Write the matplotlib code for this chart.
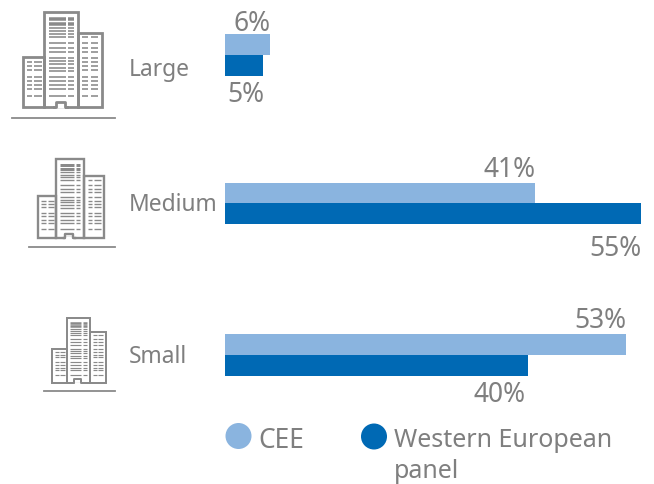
import matplotlib
matplotlib.use('Agg')
import matplotlib.pyplot as plt
from matplotlib.patches import Rectangle, Circle

plt.rcParams['font.family'] = ['Noto Sans', 'DejaVu Sans']

sizes = ['Large', 'Medium', 'Small']
cee = [6, 41, 53]
western = [5, 55, 40]
series_names = ['CEE', 'Western European\npanel']
blue_light = '#8ab4df'
blue_dark = '#0069b4'
grey = '#7f7f7f'

W, H = 654, 484
fig = plt.figure(figsize=(W / 100, H / 100), dpi=100)

# overlay in pixel coords for icons and text
bg = fig.add_axes([0, 0, 1, 1])
bg.set_xlim(0, W)
bg.set_ylim(H, 0)
bg.axis('off')

# bar axes, x is percent
ax = fig.add_axes([225 / W, 0, 416 / W, 1])
ax.set_xlim(0, 55)
ax.set_ylim(H, 0)
ax.axis('off')
ax.patch.set_alpha(0)

centres = [55, 203.4, 355]
bar_h = 20.8
for i in range(3):
    ax.barh(centres[i] - bar_h / 2, cee[i], height=bar_h, color=blue_light)
    ax.barh(centres[i] + bar_h / 2, western[i], height=bar_h, color=blue_dark)

# value labels
fs_val = 19
top_label = [(252, 24), (510, 170), (600, 321)]
bot_label = [(246, 95), (615, 249), (500, 395)]
for i in range(3):
    bg.text(top_label[i][0], top_label[i][1], f'{cee[i]}%', color=grey, fontsize=fs_val, ha='center', va='center')
    bg.text(bot_label[i][0], bot_label[i][1], f'{western[i]}%', color=grey, fontsize=fs_val, ha='center', va='center')

# row labels
label_y = [70, 205, 357]
for i in range(3):
    bg.text(128.5, label_y[i], sizes[i], color=grey, fontsize=16.4, ha='left', va='center')


def building(x0, y0, s, line_x0, line_x1, line_y):
    c = '#8a8a8a'
    lw = 1.8 * s + 0.2

    def px(x, y):
        return x0 + x * s, y0 + y * s

    def rows(ys, spans, t):
        for r in ys:
            for a, b in spans:
                xa, ya = px(a, r)
                xb, _ = px(b, r)
                bg.plot([xa, xb], [ya, ya], color=c, lw=t * (s + 0.15), solid_capstyle='butt')

    for x, y, w, h in [(0, 45, 21.5, 50), (21.5, 0, 34, 95), (55.5, 21, 24, 74)]:
        bg.add_patch(Rectangle(px(x, y), w * s, h * s, fill=False, ec=c, lw=lw))
    # door, open at the bottom
    bg.plot([x0 + 33 * s, x0 + 42 * s], [y0 + 95 * s, y0 + 95 * s], color='white', lw=lw + 0.6, solid_capstyle='butt')
    bg.plot([x0 + 31 * s, x0 + 33 * s, x0 + 33 * s, x0 + 42 * s, x0 + 42 * s, x0 + 44 * s],
            [y0 + 95 * s, y0 + 95 * s, y0 + 90 * s, y0 + 90 * s, y0 + 95 * s, y0 + 95 * s], color=c, lw=lw)
    # windows
    rows([7, 12], [(26, 43), (45.5, 51)], 2.2)
    rows([16, 19, 22, 25, 31, 36, 40, 46, 49, 52, 56, 59, 65, 69, 73, 77, 84], [(26, 43), (45.5, 51)], 1.0)
    rows([25, 31, 36, 40, 46, 50, 54, 58, 65, 69, 73, 77, 84], [(59.7, 65.6), (68, 75.6)], 1.0)
    rows([50, 54, 58, 65, 69, 73, 77, 84], [(4, 9.6), (11.6, 19.6)], 1.0)
    bg.plot([line_x0, line_x1], [line_y, line_y], color=c, lw=1.3)


building(22.7, 12, 1.0, 12, 115, 118)
building(38, 159, 0.83, 29, 115, 247)
building(52, 318, 0.68, 44, 115, 391)

# legend
bg.add_patch(Circle((238.5, 436), 13, color=blue_light, lw=0))
bg.add_patch(Circle((374, 436.5), 13, color=blue_dark, lw=0))
bg.text(258, 441, series_names[0], color=grey, fontsize=19, ha='left', va='center')
bg.text(394, 456, series_names[1], color=grey, fontsize=18, ha='left', va='center', linespacing=1.28)

fig.savefig('out.png', dpi=100)
